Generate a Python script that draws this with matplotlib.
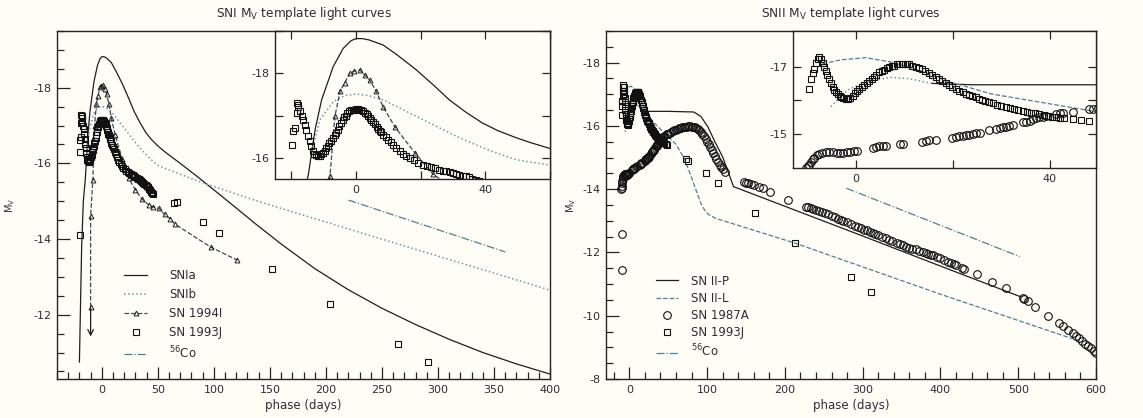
import matplotlib
matplotlib.use('Agg')
import matplotlib.pyplot as plt
from matplotlib.ticker import MultipleLocator, FixedLocator

plt.rcParams['font.family'] = ['DejaVu Sans']
plt.rcParams['mathtext.default'] = 'regular'
plt.rcParams['axes.unicode_minus'] = False

# ---------------- SNI panel data ----------------
sn1a_phase = [-20, -18, -16.5, -14.7, -12.6, -10.6, -7, -3.9, -1.5, 0, 2, 4, 8.4, 13, 18.7, 24,
              28.9, 34, 39.2, 44, 49.4, 54, 59.2, 70, 84, 100, 120, 136, 160, 190, 220, 250,
              280, 310, 340, 370, 400]
sn1a_mag = [-10.75, -13.8, -15.0, -15.6, -16.67, -17.37, -18.16, -18.59, -18.77, -18.82,
            -18.82, -18.79, -18.67, -18.42, -18.08, -17.72, -17.37, -17.08, -16.82, -16.64,
            -16.48, -16.36, -16.24, -16.0, -15.68, -15.3, -14.82, -14.43, -13.87, -13.22,
            -12.66, -12.17, -11.74, -11.35, -11.0, -10.7, -10.43]

sn1b_phase = [-13.6, -11.1, -7, -3.5, 0, 4, 8.4, 13, 18.7, 24, 28.9, 34, 39.2, 44, 49.4, 54,
              59.2, 84, 136, 233, 300, 400]
sn1b_mag = [-16.16, -16.9, -17.33, -17.47, -17.51, -17.47, -17.37, -17.2, -16.98, -16.78,
            -16.59, -16.41, -16.24, -16.1, -15.96, -15.9, -15.84, -15.55, -15.03, -14.15,
            -13.55, -12.65]

sn94i_phase = [-10, -10, -8, -6.5, -4.9, -3.4, -1.85, -0.5, 1.2, 2.7, 4.3, 6.3, 8.4, 12, 18.2,
               23.9, 30, 36, 42, 46, 51, 56, 61, 65, 97, 121]
sn94i_mag = [-12.2, -14.6, -15.57, -16.98, -17.57, -17.78, -18.01, -18.05, -18.08, -17.96,
             -17.84, -17.57, -17.21, -16.74, -16.12, -15.61, -15.3, -15.05, -14.9, -14.85,
             -14.81, -14.65, -14.54, -14.4, -13.79, -13.44]

sn93j_l_phase = [-19.7, -19.8, -19.3, -18.8, -18.3, -17.8,
                 -18.3, -17.8, -17.3, -16.8, -16.3, -15.8, -15.3, -14.8, -14.3, -13.8, -13.3,
                 -12.8, -12.3, -11.7, -11.2, -10.7, -10.2, -9.7, -9.2, -8.7, -8.2, -7.7, -7.2,
                 -6.6, -6.1, -5.6, -5.1, -4.6, -4.1, -3.6, -3.1, -2.6, -2.05, -1.5, -1, -0.5,
                 0, 0.5, 1.1, 1.7, 2.3, 2.8, 3.3, 3.8, 4.3, 4.8, 5.3, 5.9, 6.4, 6.9, 7.4, 7.9,
                 8.4, 9.2, 10, 10.8, 11.5, 12.5, 13.5, 14.5, 15.6, 16.8, 18, 19.3, 20.7, 22,
                 23.3, 24.5, 25.8, 27, 28, 29, 30, 31, 32, 33, 34, 35, 36, 37, 38, 39, 40, 41,
                 42, 43, 44, 45, 46,
                 64, 67, 90, 105, 152, 204, 264, 291]
sn93j_l_mag = [-14.1, -16.31, -16.63, -16.71, -17.06, -17.25,
               -17.29, -17.2, -17.1, -17.0, -16.9, -16.78, -16.65, -16.51, -16.4, -16.28,
               -16.16, -16.1, -16.06, -16.04, -16.05, -16.08, -16.12, -16.17, -16.23, -16.29,
               -16.35, -16.41, -16.47, -16.53, -16.59, -16.67, -16.75, -16.83, -16.9, -16.96,
               -17.0, -17.05, -17.1, -17.12, -17.13, -17.14, -17.15, -17.15, -17.14, -17.12,
               -17.1, -17.07, -17.03, -16.99, -16.94, -16.89, -16.84, -16.79, -16.74, -16.69,
               -16.64, -16.6, -16.55, -16.49, -16.43, -16.37, -16.31, -16.24, -16.17, -16.1,
               -16.04, -15.99, -15.94, -15.89, -15.84, -15.81, -15.78, -15.75, -15.72, -15.7,
               -15.68, -15.66, -15.65, -15.62, -15.6, -15.58, -15.57, -15.54, -15.5, -15.48,
               -15.45, -15.43, -15.4, -15.37, -15.33, -15.29, -15.25, -15.22, -15.2,
               -14.95, -14.98, -14.46, -14.15, -13.22, -12.28, -11.22, -10.75]

co_l_phase = [220, 360]
co_l_mag = [-15.03, -13.66]

# ---------------- SNII panel data ----------------
sn2p_phase = [-5.2, -1.8, 2, 7.3, 11, 15.6, 24, 50, 82.7, 92, 101, 110, 120, 134, 200, 300,
              400, 503]
sn2p_mag = [-15.81, -16.3, -16.55, -16.68, -16.64, -16.5, -16.46, -16.46, -16.44, -16.3,
            -15.97, -15.5, -15.02, -14.08, -13.46, -12.52, -11.57, -10.6]
n_rise = 6  # first points of the II-P template are drawn dotted

sn2l_phase = [-6.9, -3, 2.1, 7.3, 14.2, 19.7, 27.9, 38.2, 48.5, 59.4, 70, 78, 92, 96.7, 102,
              110.8, 213.6, 400, 570]
sn2l_mag = [-17.08, -17.2, -17.26, -17.13, -16.83, -16.53, -16.19, -15.94, -15.69, -15.44,
            -15.0, -14.5, -13.55, -13.34, -13.2, -13.08, -12.29, -10.68, -9.27]

co_r_phase = [279, 502]
co_r_mag = [-14.03, -11.87]

sn87a_phase = [-9, -9,
               -10.3, -10.0, -9.6, -9.3, -8.9, -8.6, -8.1, -7.6, -7.0, -6.2, -5.5, -4.8, -4.0,
               -3.3, -2.6, -1.9, -1.2, -0.5, 0.2, 3.4, 4.1, 4.8, 5.5, 6.2, 9.0, 9.6, 13.7,
               14.4, 15, 16.5, 19.9, 20.6, 21.3, 22, 22.7, 23.4, 24.1, 24.8, 25.5, 27.5, 28.9,
               29.6, 30.3, 30.9, 31.6, 32.3, 34.4, 35.1, 35.8, 36.5, 37.2, 37.8, 38.5, 39.2,
               41.2, 42, 42.7, 44.7, 48.1, 48.8,
               50, 52, 54, 56, 58, 60, 62, 64, 66, 68, 70, 72, 74, 76, 78, 80, 82, 84, 86, 88,
               90, 92, 94, 96, 98, 100, 102, 104, 106, 108, 110, 112, 114, 116, 118, 120,
               122.4,
               148, 150, 152, 156, 160, 166.7, 172, 181, 204, 227.6, 230, 233, 236, 240, 244,
               248, 251, 255, 260, 264, 268, 272, 275, 280, 285, 290, 294, 298, 302, 305, 309,
               313, 316, 320, 325, 330, 334, 338, 344, 348, 352, 356, 360, 364, 368, 372, 378,
               381, 384, 388, 391, 396, 400, 405, 410, 413, 417, 420, 428, 430, 447, 466, 484,
               505.6, 508, 512, 522, 538, 552, 558, 564, 570, 574, 578, 582, 586, 590, 594,
               597, 600]
sn87a_mag = [-12.58, -11.45,
             -14.01, -14.05, -14.1, -14.18, -14.26, -14.31, -14.37, -14.41, -14.45, -14.48,
             -14.47, -14.46, -14.45, -14.44, -14.45, -14.47, -14.48, -14.5, -14.51, -14.6,
             -14.63, -14.64, -14.65, -14.66, -14.71, -14.72, -14.78, -14.8, -14.82, -14.83,
             -14.9, -14.92, -14.94, -14.96, -14.97, -14.99, -15.0, -15.02, -15.04, -15.12,
             -15.16, -15.18, -15.2, -15.22, -15.24, -15.26, -15.35, -15.37, -15.4, -15.44,
             -15.47, -15.5, -15.52, -15.55, -15.6, -15.62, -15.64, -15.67, -15.73, -15.74,
             -15.76, -15.79, -15.81, -15.84, -15.86, -15.88, -15.9, -15.92, -15.94, -15.96,
             -15.97, -15.98, -15.98, -15.99, -15.99, -15.98, -15.97, -15.95, -15.93, -15.9,
             -15.86, -15.81, -15.75, -15.67, -15.6, -15.5, -15.42, -15.33, -15.23, -15.14,
             -15.05, -14.96, -14.87, -14.78, -14.7, -14.63, -14.55,
             -14.23, -14.21, -14.2, -14.16, -14.12, -14.08, -14.03, -13.92, -13.66, -13.45,
             -13.43, -13.41, -13.38, -13.35, -13.31, -13.27, -13.24, -13.2, -13.15, -13.11,
             -13.07, -13.03, -13.0, -12.95, -12.9, -12.85, -12.8, -12.76, -12.72, -12.7,
             -12.66, -12.62, -12.58, -12.55, -12.5, -12.45, -12.4, -12.36, -12.29, -12.26,
             -12.22, -12.18, -12.15, -12.12, -12.1, -12.06, -12.0, -11.97, -11.95, -11.93,
             -11.92, -11.87, -11.83, -11.77, -11.7, -11.67, -11.63, -11.6, -11.5, -11.48,
             -11.32, -11.08, -10.87, -10.56, -10.52, -10.47, -10.29, -10.0, -9.77, -9.68,
             -9.56, -9.45, -9.37, -9.29, -9.21, -9.12, -9.05, -8.97, -8.9, -8.82]

sn93j_r_phase = [-9.6, -9.3, -8.9, -8.6, -8.2, -7.9, -7.6, -7.3, -6.9, -6.6, -6.2, -5.9, -5.5,
                 -5.2, -4.8, -4.5, -4.1, -3.8, -3.4, -3.0, -2.6, -2.1, -1.7, -1.2, -0.7, -0.2,
                 0.3, 0.7, 1.2, 1.7, 2.2, 2.7, 3.2, 3.7, 4.2, 4.8, 5.3, 5.8, 6.3, 6.9, 7.4,
                 7.9, 8.4, 8.9, 9.4, 10, 10.5, 11, 11.6, 12.3, 13, 13.7, 14.3, 15, 15.7, 16.5,
                 17.1, 17.8, 18.5, 19.2, 19.9, 20.6, 21.3, 22, 22.7, 23.3, 24, 24.7, 25.3, 26,
                 26.7, 27.5, 28.2, 29, 29.9, 30.9, 31.7, 32.5, 33.4, 34.4, 35.2, 36, 37, 37.8,
                 38.7, 39.5, 40.4, 41.2, 42, 43, 44.7, 46.5, 48.1,
                 73, 76, 98.5, 114, 162, 213.6, 284.5, 311]
sn93j_r_mag = [-16.34, -16.63, -16.8, -16.93, -17.1, -17.23, -17.28, -17.22, -17.1, -17.0,
               -16.88, -16.76, -16.63, -16.5, -16.39, -16.32, -16.25, -16.19, -16.14, -16.09,
               -16.06, -16.04, -16.05, -16.08, -16.14, -16.21, -16.28, -16.34, -16.4, -16.46,
               -16.52, -16.58, -16.64, -16.7, -16.76, -16.83, -16.87, -16.91, -16.95, -16.98,
               -17.01, -17.03, -17.06, -17.08, -17.08, -17.08, -17.07, -17.06, -17.03, -17.0,
               -16.97, -16.93, -16.87, -16.81, -16.75, -16.68, -16.62, -16.56, -16.5, -16.44,
               -16.39, -16.34, -16.29, -16.24, -16.2, -16.16, -16.12, -16.09, -16.05, -16.01,
               -15.98, -15.94, -15.91, -15.87, -15.84, -15.81, -15.78, -15.75, -15.72, -15.69,
               -15.66, -15.64, -15.62, -15.6, -15.57, -15.55, -15.52, -15.5, -15.49, -15.47,
               -15.45, -15.42, -15.4,
               -14.95, -14.9, -14.5, -14.18, -13.24, -12.29, -11.21, -10.76]

# ---------------- style ----------------
bg = '#fffef6'
txt = '#2c2c38'
spine_c = '#2a2222'
blue = '#6a98aa'
dark = '#1e1e1e'

W, H = 1143, 418
fig = plt.figure(figsize=(W / 100, H / 100), dpi=100, facecolor=bg)


def box(x0, y0, x1, y1):
    # pixel box -> figure fraction
    return [x0 / W, 1 - y1 / H, (x1 - x0) / W, (y1 - y0) / H]


def style(ax, inset=False):
    ax.set_facecolor(bg)
    for s in ax.spines.values():
        s.set_color(spine_c)
        s.set_linewidth(1.0)
    ax.tick_params(which='both', direction='in', colors=spine_c, labelcolor=txt,
                   labelsize=8, width=0.9, top=inset, right=inset)
    if inset:
        ax.tick_params(which='major', length=6, pad=4)
        ax.tick_params(which='minor', length=6)
    else:
        ax.tick_params(which='major', length=9, pad=4)
        ax.tick_params(which='minor', length=5)


def draw_sni(ax):
    ax.plot(sn1a_phase, sn1a_mag, '-', color=dark, lw=0.9, label='SNIa')
    ax.plot(sn1b_phase, sn1b_mag, ':', color=blue, lw=1.1, label='SNIb')
    ax.plot(sn94i_phase, sn94i_mag, '--', color='#3a4a58', lw=0.9, marker='^', ms=3.5,
            mfc='none', mec=dark, mew=0.7, label='SN 1994I')
    ax.plot(sn93j_l_phase, sn93j_l_mag, 's', ms=4.2, mfc='none', mec='#111111', mew=0.8,
            label='SN 1993J')
    ax.plot(co_l_phase, co_l_mag, '-.', color='#4f7f90', lw=0.9, label='$^{56}$Co')


def draw_snii(ax):
    ax.plot(sn2p_phase[n_rise - 1:], sn2p_mag[n_rise - 1:], '-', color=dark, lw=0.9,
            label='SN II-P')
    ax.plot(sn2p_phase[:n_rise], sn2p_mag[:n_rise], ':', color=blue, lw=1.1)
    ax.plot(sn2l_phase, sn2l_mag, '--', color='#4f7f95', lw=0.9, label='SN II-L')
    ax.plot(sn87a_phase, sn87a_mag, 'o', ms=5.5, mfc='none', mec='#111111', mew=0.8,
            label='SN 1987A')
    ax.plot(sn93j_r_phase, sn93j_r_mag, 's', ms=4.2, mfc='none', mec='#111111', mew=0.8,
            label='SN 1993J')
    ax.plot(co_r_phase, co_r_mag, '-.', color='#4f7f90', lw=0.9, label='$^{56}$Co')


# ---------------- left panel ----------------
ax1 = fig.add_axes(box(57, 31, 550, 379))
style(ax1)
draw_sni(ax1)
ax1.annotate('', xy=(-10, -11.35), xytext=(-10, -12.25),
             arrowprops=dict(arrowstyle='->', lw=0.9, color=dark))
ax1.set_xlim(-40, 400)
ax1.set_ylim(-10.3, -19.5)
ax1.xaxis.set_major_locator(MultipleLocator(50))
ax1.xaxis.set_minor_locator(MultipleLocator(10))
ax1.yaxis.set_major_locator(MultipleLocator(2))
ax1.yaxis.set_minor_locator(MultipleLocator(0.5))
ax1.set_xlabel('phase (days)', fontsize=8.5, color=txt, labelpad=3)
ax1.set_ylabel('M$_V$', fontsize=7, color=txt)
ax1.yaxis.set_label_coords(-0.082, 0.5)
ax1.set_title('SNI M$_V$ template light curves', fontsize=8.7, color=txt, pad=10)
ax1.legend(loc='upper left', bbox_to_anchor=(0.136, 0.315), frameon=False, fontsize=8.5,
           numpoints=1, handlelength=1.95, handletextpad=1.9, labelspacing=0.5,
           borderpad=0, borderaxespad=0, labelcolor=txt)

ins1 = fig.add_axes(box(275, 31, 550, 179))
style(ins1, inset=True)
draw_sni(ins1)
ins1.set_xlim(-25, 60)
ins1.set_ylim(-15.5, -19.0)
ins1.xaxis.set_major_locator(MultipleLocator(40))
ins1.xaxis.set_minor_locator(MultipleLocator(20))
ins1.yaxis.set_major_locator(MultipleLocator(2))
ins1.yaxis.set_minor_locator(MultipleLocator(1))

# ---------------- right panel ----------------
ax2 = fig.add_axes(box(606, 31, 1096, 379))
style(ax2)
draw_snii(ax2)
ax2.set_xlim(-30, 600)
ax2.set_ylim(-8, -19)
ax2.xaxis.set_major_locator(MultipleLocator(100))
ax2.xaxis.set_minor_locator(MultipleLocator(20))
ax2.yaxis.set_major_locator(MultipleLocator(2))
ax2.yaxis.set_minor_locator(MultipleLocator(0.5))
ax2.set_xlabel('phase (days)', fontsize=8.5, color=txt, labelpad=3)
ax2.set_ylabel('M$_V$', fontsize=7, color=txt)
ax2.yaxis.set_label_coords(-0.057, 0.5)
ax2.set_title('SNII M$_V$ template light curves', fontsize=8.7, color=txt, pad=10)
ax2.legend(loc='upper left', bbox_to_anchor=(0.102, 0.3), frameon=False, fontsize=8.5,
           numpoints=1, handlelength=1.9, handletextpad=1.1, labelspacing=0.35,
           borderpad=0, borderaxespad=0, labelcolor=txt)

ins2 = fig.add_axes(box(793, 31, 1096, 168))
style(ins2, inset=True)
draw_snii(ins2)
ins2.set_xlim(-13, 49.5)
ins2.set_ylim(-14, -18.05)
ins2.xaxis.set_major_locator(MultipleLocator(40))
ins2.xaxis.set_minor_locator(MultipleLocator(20))
ins2.yaxis.set_major_locator(FixedLocator([-17, -15]))
ins2.yaxis.set_minor_locator(FixedLocator([-16]))

fig.savefig('out.png', dpi=100, facecolor=bg)
